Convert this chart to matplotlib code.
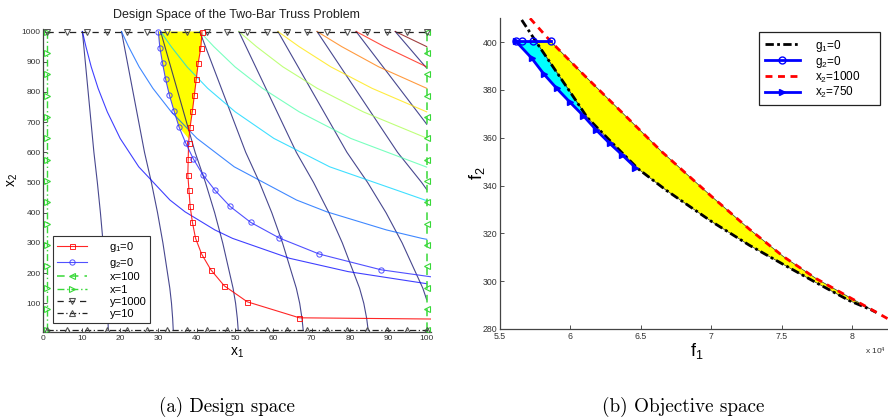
import matplotlib
matplotlib.use('Agg')
import matplotlib.pyplot as plt

plt.rcParams['font.family'] = ['Liberation Sans', 'DejaVu Sans']
plt.rcParams['mathtext.fontset'] = 'custom'
plt.rcParams['mathtext.rm'] = 'Liberation Sans'
plt.rcParams['mathtext.it'] = 'Liberation Sans:italic'
plt.rcParams['mathtext.default'] = 'regular'

# ---------------- (a) design space data ----------------
title_a = 'Design Space of the Two-Bar Truss Problem'
xticks_a = [0, 10, 20, 30, 40, 50, 60, 70, 80, 90, 100]
yticks_a = [100, 200, 300, 400, 500, 600, 700, 800, 900, 1000]

# dark contour family
navy_x1 = [
    [10.2, 10.95, 11.7, 12.45, 13.2, 14.1, 14.9, 15.6, 16.2, 16.5, 16.72, 16.87, 16.95],
    [20.4, 21.9, 23.4, 24.9, 26.4, 28.2, 29.8, 31.2, 32.4, 33.0, 33.44, 33.74, 33.9],
    [30.6, 32.85, 35.1, 37.35, 39.6, 42.3, 44.7, 46.8, 48.6, 49.5, 50.16, 50.61, 50.85],
    [40.8, 43.8, 46.8, 49.8, 52.8, 56.4, 59.6, 62.4, 64.8, 66.0, 66.88, 67.48, 67.8],
    [51.0, 54.75, 58.5, 62.25, 66.0, 70.5, 74.5, 78.0, 81.0, 82.5, 83.6, 84.35, 84.75],
    [61.2, 65.7, 70.2, 74.7, 79.2, 84.6, 89.4, 93.6, 97.2, 99.0, 100],
    [71.4, 76.65, 81.9, 87.15, 92.4, 98.7, 100],
    [81.6, 87.6, 93.6, 99.6, 100],
    [91.8, 98.55, 100],
]
navy_x2 = [
    [1000, 900, 800, 700, 600, 500, 400, 300, 200, 150, 100, 50, 10],
    [1000, 900, 800, 700, 600, 500, 400, 300, 200, 150, 100, 50, 10],
    [1000, 900, 800, 700, 600, 500, 400, 300, 200, 150, 100, 50, 10],
    [1000, 900, 800, 700, 600, 500, 400, 300, 200, 150, 100, 50, 10],
    [1000, 900, 800, 700, 600, 500, 400, 300, 200, 150, 100, 50, 10],
    [1000, 900, 800, 700, 600, 500, 400, 300, 200, 150, 112],
    [1000, 900, 800, 700, 600, 500, 477],
    [1000, 900, 800, 700, 693],
    [1000, 900, 879],
]

# coloured contour family
col_x1 = [
    [10.2, 11.12, 12.5, 14.29, 16.69, 20.05, 24.9, 33.03, 36.97, 44.75, 49.37, 64.26, 79.5, 100],
    [20.4, 22.24, 25.0, 28.58, 33.38, 40.1, 49.8, 66.06, 73.94, 89.5, 98.74, 100],
    [30.6, 33.36, 37.5, 42.87, 50.07, 60.15, 74.7, 100],
    [40.8, 44.48, 50.0, 57.16, 66.76, 80.2, 100],
    [51.0, 55.6, 62.5, 71.45, 83.45, 100],
    [61.2, 66.72, 75.0, 85.74, 100],
    [71.4, 77.84, 87.5, 100],
    [81.6, 88.96, 100],
    [91.8, 100],
]
col_x2 = [
    [1000, 950, 883, 812, 734, 646, 552, 442, 403, 343, 315, 249, 205, 165],
    [1000, 950, 883, 812, 734, 646, 552, 442, 403, 343, 315, 312],
    [1000, 950, 883, 812, 734, 646, 552, 440],
    [1000, 950, 883, 812, 734, 646, 551],
    [1000, 950, 883, 812, 734, 647],
    [1000, 950, 883, 812, 734],
    [1000, 950, 883, 812],
    [1000, 950, 883],
    [1000, 950],
]
col_levels = [1, 2, 3, 4, 5, 6, 7, 8, 9]

g1_x1 = [41.4, 41.1, 40.4, 39.9, 39.4, 38.9, 38.3, 37.9, 37.8, 37.7, 38.0, 38.3, 38.9,
         39.7, 41.3, 43.7, 47.2, 53.2, 66.8, 101]
g1_x2 = [1000, 947, 895, 842, 789, 737, 684, 632, 579, 526, 474, 421, 368, 316, 263,
         211, 158, 105, 52, 48]
g2_x1 = [30.0, 30.4, 31.1, 31.9, 32.9, 34.1, 35.4, 37.1, 39.1, 41.6, 44.8, 48.7, 54.1,
         61.6, 72.0, 88.1, 101]
g2_x2 = [1000, 947, 895, 842, 789, 737, 684, 632, 579, 526, 474, 421, 368, 316, 263,
         211, 188]
feas_x1 = [30.0, 30.4, 31.1, 31.9, 32.9, 34.1, 35.4, 37.9, 38.3, 38.9, 39.4, 39.9, 40.4, 41.1, 41.4]
feas_x2 = [1000, 947, 895, 842, 789, 737, 684, 645, 684, 737, 789, 842, 895, 947, 1000]

bound_x1 = [1, 6.21, 11.42, 16.63, 21.84, 27.05, 32.26, 37.47, 42.68, 47.89, 53.11,
            58.32, 63.53, 68.74, 73.95, 79.16, 84.37, 89.58, 94.79, 100]
bound_x2 = [10, 80.71, 151.43, 222.14, 292.86, 363.57, 434.29, 505, 575.71, 646.43,
            717.14, 787.86, 858.57, 929.29, 1000]
labels_a = ['g$_1$=0', 'g$_2$=0', 'x=100', 'x=1', 'y=1000', 'y=10']

# ---------------- (b) objective space data (f1 in units of 1e4) ----------------
xticks_b = [5.5, 6, 6.5, 7, 7.5, 8]
xticklabels_b = ['5.5', '6', '6.5', '7', '7.5', '8']
yticks_b = [280, 300, 320, 340, 360, 380, 400]

bg1_f1 = [5.654, 5.76, 5.90, 6.02, 6.12, 6.30, 6.48, 6.68, 7.0, 7.27, 7.51, 7.745, 7.98, 8.13, 8.17]
bg1_f2 = [409.3, 399.8, 387.6, 377.2, 368.4, 357.6, 347.0, 338.0, 325.0, 315.0, 307.0, 299.3, 291.8, 288.1, 286.9]
bg2_f1 = [5.614, 5.654, 5.737, 5.86]
bg2_f2 = [400.3, 400.3, 400.3, 400.3]
bx1000_f1 = [5.713, 5.86, 6.1, 6.35, 6.645, 7.0, 7.27, 7.51, 7.745, 7.98, 8.13, 8.25]
bx1000_f2 = [410, 400.3, 386.0, 371.5, 354.3, 335.5, 321.7, 310.3, 301.0, 293.2, 288.3, 284.3]
bx750_f1 = [5.614, 5.725, 5.812, 5.902, 5.996, 6.09, 6.182, 6.277, 6.367, 6.461]
bx750_f2 = [400.3, 393.3, 386.6, 380.7, 374.9, 369.3, 363.3, 357.7, 352.8, 347.5]
labels_b = ['g$_1$=0', 'g$_2$=0', 'x$_2$=1000', 'x$_2$=750']

# ---------------- figure ----------------
fig = plt.figure(figsize=(8.88, 4.19), dpi=100)

ax = fig.add_axes([0.04876, 0.20764, 0.43604, 0.72291])
ax.fill(feas_x1, feas_x2, color='yellow', zorder=1, lw=0)
for xs, ys in zip(navy_x1, navy_x2):
    ax.plot(xs, ys, color=(0.1, 0.1, 0.45), lw=0.8, alpha=0.8, zorder=2)
for lev, xs, ys in zip(col_levels, col_x1, col_x2):
    ax.plot(xs, ys, color=plt.cm.jet(lev / 9), lw=0.8, alpha=0.75, zorder=2)

h_g1, = ax.plot(g1_x1, g1_x2, color='red', lw=0.8, marker='s', ms=3.6, mfc='none',
                mew=0.7, markevery=list(range(len(g1_x1) - 1)), zorder=5, alpha=0.85)
h_g2, = ax.plot(g2_x1, g2_x2, color=(0.2, 0.2, 1.0), lw=0.8, marker='o', ms=3.8, mfc='none',
                mew=0.7, markevery=list(range(len(g2_x1) - 1)), zorder=5, alpha=0.85)
green = '#38d838'
h_x100, = ax.plot([100] * len(bound_x2), bound_x2, color=green, lw=1.1, ls=(0, (5, 4)),
                  marker='<', ms=4, mfc='none', mew=0.8, zorder=4)
h_x1, = ax.plot([1] * len(bound_x2), bound_x2, color=green, lw=1.0, ls=(0, (5, 2, 1, 2)),
                marker='>', ms=4, mfc='none', mew=0.8, zorder=4)
h_y1000, = ax.plot(bound_x1, [1000] * len(bound_x1), color='#222222', lw=0.9, ls=(0, (5, 4)),
                   marker='v', ms=4, mfc='none', mec='#555555', mew=0.8, zorder=4)
h_y10, = ax.plot(bound_x1, [10] * len(bound_x1), color='#222222', lw=0.9, ls=(0, (5, 2, 1, 2)),
                 marker='^', ms=4, mfc='none', mec='#555555', mew=0.8, zorder=4)

ax.set_xlim(0, 101)
ax.set_ylim(5, 1008)
ax.set_xticks(xticks_a)
ax.set_yticks(yticks_a)
for s in ['top', 'right']:
    ax.spines[s].set_visible(False)
for s in ['left', 'bottom']:
    ax.spines[s].set_color('#444444')
    ax.spines[s].set_linewidth(0.9)
ax.tick_params(direction='in', length=3, width=0.6, labelsize=6, colors='#333333', pad=2)
ax.set_title(title_a, fontsize=9, color='#222222', pad=8)
ax.set_xlabel('x$_1$', fontsize=10)
ax.set_ylabel('x$_2$', fontsize=10)
ax.xaxis.set_label_coords(0.5, -0.045)
ax.yaxis.set_label_coords(-0.06, 0.502)
leg = ax.legend([h_g1, h_g2, h_x100, h_x1, h_y1000, h_y10], labels_a, loc='upper left',
                bbox_to_anchor=(0.026, 0.317), fontsize=8, handlelength=2.7, handletextpad=2.0,
                labelspacing=0.2, borderpad=0.35, fancybox=False, framealpha=1,
                edgecolor='#333333', borderaxespad=0)
leg.get_frame().set_linewidth(0.8)

# ---------------- (b) ----------------
bx = fig.add_axes([0.56306, 0.21480, 0.44459, 0.74153])
poly_y_f1 = bx1000_f1[1:11] + bg1_f1[12:0:-1]
poly_y_f2 = bx1000_f2[1:11] + bg1_f2[12:0:-1]
bx.fill(poly_y_f1, poly_y_f2, facecolor='yellow', edgecolor='#333333', lw=0.5, zorder=1)
poly_c_f1 = [bg2_f1[0]] + bg1_f1[1:5] + bx750_f1[5::-1]
poly_c_f2 = [bg2_f2[0]] + bg1_f2[1:5] + bx750_f2[5::-1]
bx.fill(poly_c_f1, poly_c_f2, facecolor='cyan', edgecolor='#333333', lw=0.5, zorder=1)

hb1, = bx.plot(bg1_f1, bg1_f2, color='black', lw=2, ls=(0, (3, 1.2, 1, 1.2)), zorder=3)
hb3, = bx.plot(bx1000_f1, bx1000_f2, color='red', lw=2, ls=(0, (2.5, 2)), zorder=3)
hb2, = bx.plot(bg2_f1, bg2_f2, color='blue', lw=2, marker='o', ms=5, mfc='none', mew=1,
               zorder=4)
hb4, = bx.plot(bx750_f1, bx750_f2, color='blue', lw=2, marker='>', ms=5, zorder=4)

bx.set_xlim(5.5, 8.3)
bx.set_ylim(280, 410)
bx.set_xticks(xticks_b)
bx.set_xticklabels(xticklabels_b)
bx.set_yticks(yticks_b)
for s in ['top', 'right']:
    bx.spines[s].set_visible(False)
for s in ['left', 'bottom']:
    bx.spines[s].set_color('#444444')
    bx.spines[s].set_linewidth(0.9)
bx.tick_params(direction='in', length=3, width=0.6, labelsize=6.3, colors='#333333', pad=2)
bx.set_xlabel('f$_1$', fontsize=13)
bx.set_ylabel('f$_2$', fontsize=13)
bx.xaxis.set_label_coords(0.498, -0.04)
bx.yaxis.set_label_coords(-0.033, 0.501)
legb = bx.legend([hb1, hb2, hb3, hb4], [s + '     ' for s in labels_b], loc='upper left',
                 bbox_to_anchor=(0.657, 0.955),
                 fontsize=8.5, handlelength=3.0, handletextpad=1.3, labelspacing=0.0,
                 borderpad=0.45, fancybox=False, framealpha=1, edgecolor='#222222',
                 borderaxespad=0)
legb.get_frame().set_linewidth(0.9)
fig.text(0.998, 0.1606, 'x 10$^4$', fontsize=6, color='#333333', ha='right', va='center')

fig.text(227 / 888, 1 - 406.7 / 419, '(a) Design space', family='cmr10', fontsize=13.6,
         ha='center', va='center')
fig.text(683 / 888, 1 - 406.7 / 419, '(b) Objective space', family='cmr10', fontsize=13.8,
         ha='center', va='center')

fig.savefig('out.png', dpi=100)
